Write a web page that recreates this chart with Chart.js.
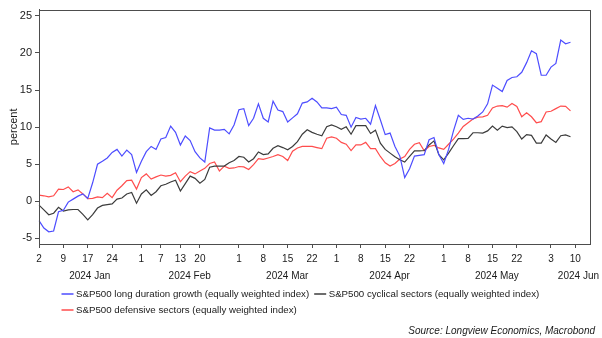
<!DOCTYPE html>
<html>
<head>
<meta charset="utf-8">
<script src="https://cdn.jsdelivr.net/npm/chart.js@4.4.1/dist/chart.umd.min.js"></script>
<style>
  html, body { margin: 0; padding: 0; background: #fff; }
  canvas { display: block; }
</style>
</head>
<body>
<canvas id="chart" width="602" height="338"></canvas>
<script>
// trading days, 2024
const janDays = [2,3,4,5,8,9,10,11,12,16,17,18,19,22,23,24,25,26,29,30,31];
const febDays = [1,2,5,6,7,8,9,12,13,14,15,16,20,21,22,23,26,27,28,29];
const marDays = [1,4,5,6,7,8,11,12,13,14,15,18,19,20,21,22,25,26,27,28];
const aprDays = [1,2,3,4,5,8,9,10,11,12,15,16,17,18,19,22,23,24,25,26,29,30];
const mayDays = [1,2,3,6,7,8,9,10,13,14,15,16,17,20,21,22,23,24,28,29,30,31];
const junDays = [3,4,5,6,7,10,11,12,13];
const monthNames = ["Jan", "Feb", "Mar", "Apr", "May", "Jun"];

const xTickLabels = ["01-02","01-09","01-17","01-24","02-01","02-07","02-13","02-20",
  "03-01","03-08","03-15","03-22","04-01","04-08","04-15","04-22",
  "05-01","05-08","05-15","05-22","06-03","06-10"];
const yTicks = [-5, 0, 5, 10, 15, 20, 25];

const seriesNames = [
  "S&P500 long duration growth (equally weighted index)",
  "S&P500 cyclical sectors (equally weighted index)",
  "S&P500 defensive sectors (equally weighted index)"
];

const growth = [-2.6,-3.6,-4.1,-4.0,-1.4,-1.2,-0.1,0.3,0.7,1.0,
  0.4,2.5,5.0,5.4,5.85,6.6,7.0,6.1,6.9,6.3,
  3.9,5.4,6.7,7.4,7.0,8.4,8.6,10.15,9.3,7.6,
  8.8,8.2,6.7,5.85,5.3,9.9,9.6,9.6,9.7,9.1,
  10.3,12.35,12.5,10.2,11.2,13.15,11.2,10.7,13.5,12.3,
  12.1,10.7,11.25,11.8,13.25,13.4,13.9,13.4,12.6,12.6,
  12.5,12.7,11.7,11.6,10.0,11.3,11.1,11.2,10.4,12.9,
  11.0,9.0,9.2,7.4,6.1,3.2,4.4,6.1,6.2,6.3,
  8.3,8.6,6.3,5.1,7.0,9.5,11.6,11.05,11.2,11.1,
  11.5,12.05,13.15,15.67,15.25,14.8,16.3,16.7,16.8,17.4,
  18.7,20.3,19.9,17.0,17.0,18.1,18.6,21.75,21.25,21.45];

const cyclical = [-0.5,-1.15,-1.8,-1.6,-0.8,-1.3,-1.15,-1.1,-1.1,-1.75,
  -2.5,-1.8,-0.9,-0.55,-0.45,-0.35,0.3,0.45,1.0,1.2,
  -0.25,1.0,1.55,0.8,1.3,2.1,2.3,2.6,2.85,1.4,
  2.4,3.4,3.1,2.45,2.95,4.6,4.75,4.75,4.75,5.2,
  5.5,6.05,5.95,5.3,5.75,6.65,6.3,6.4,7.15,7.5,
  7.25,6.95,7.4,8.05,9.05,9.65,9.3,9.05,8.85,10.05,
  10.3,10.05,9.7,10.05,9.05,10.2,10.2,10.2,9.15,9.6,
  7.85,7.0,6.5,6.0,5.6,5.3,6.05,6.8,6.8,6.85,
  7.6,8.15,6.3,5.6,6.5,7.5,8.45,8.45,8.5,9.25,
  9.25,9.2,9.5,10.15,9.6,10.15,9.95,10.05,9.4,8.4,
  9.0,8.9,7.85,7.85,8.95,8.4,7.95,8.85,8.95,8.7];

const defensive = [0.85,0.75,0.6,0.75,1.65,1.6,1.95,1.3,1.55,1.0,
  0.35,0.4,0.6,0.5,1.1,0.5,1.5,2.1,2.8,2.85,
  1.65,3.2,3.7,3.0,3.3,3.55,3.4,3.5,3.85,2.65,
  3.4,4.0,3.7,4.1,4.45,5.1,5.3,4.1,4.75,4.45,
  4.5,4.7,4.65,4.3,4.95,5.75,5.65,5.85,6.05,6.3,
  6.05,5.5,6.75,7.2,7.4,7.4,7.4,7.25,7.1,8.5,
  8.7,8.5,7.95,7.7,6.85,7.6,7.6,7.95,7.1,7.1,
  6.05,5.2,4.75,5.1,5.7,6.05,7.0,7.7,7.9,6.8,
  7.4,7.55,7.2,7.0,7.7,8.4,9.2,10.1,10.6,11.1,
  11.35,11.4,11.6,12.6,12.85,12.9,12.7,13.2,12.8,11.4,
  11.95,11.4,10.6,10.75,12.05,12.15,12.5,12.85,12.8,12.2];

const pad = (n) => String(n).padStart(2, "0");
const labels = [janDays, febDays, marDays, aprDays, mayDays, junDays]
  .flatMap((days, m) => days.map(d => pad(m + 1) + "-" + pad(d)));

const FONT = "'Liberation Sans', Arial, sans-serif";
const TEXT = "#1a1a1a";
const FRAME = "#4d4d4d";

const extras = {
  id: "extras",
  afterDraw(chart) {
    const { ctx, chartArea: a, scales } = chart;
    ctx.save();
    // frame
    ctx.strokeStyle = FRAME;
    ctx.lineWidth = 1;
    ctx.strokeRect(Math.round(a.left) + 0.5, Math.round(a.top) + 0.5,
      Math.round(a.right - a.left), Math.round(a.bottom - a.top));

    // month labels
    ctx.fillStyle = TEXT;
    ctx.font = "10px " + FONT;
    ctx.textBaseline = "middle";
    monthNames.forEach((name, m) => {
      const idx = labels.map((l, i) => l.startsWith(pad(m + 1)) ? i : -1).filter(i => i >= 0);
      const x0 = scales.x.getPixelForValue(idx[0]);
      const x1 = scales.x.getPixelForValue(idx[idx.length - 1]);
      const txt = "2024 " + name;
      if (m === monthNames.length - 1) {
        ctx.textAlign = "right";
        ctx.fillText(txt, 599, 276);
      } else {
        ctx.textAlign = "center";
        ctx.fillText(txt, (x0 + x1) / 2 + 2, 276);
      }
    });

    // legend
    ctx.textAlign = "left";
    ctx.font = "9.7px " + FONT;
    let x = 61.5, y = 294;
    chart.data.datasets.forEach((ds, i) => {
      if (i === 2) { x = 61.5; y = 310; }
      ctx.strokeStyle = ds.borderColor;
      ctx.lineWidth = 1.5;
      ctx.beginPath();
      ctx.moveTo(x, y);
      ctx.lineTo(x + 12, y);
      ctx.stroke();
      ctx.fillStyle = TEXT;
      ctx.fillText(ds.label, x + 14.5, y);
      x += 14.5 + ctx.measureText(ds.label).width + 5;
    });

    // source
    ctx.font = "italic 10px " + FONT;
    ctx.textAlign = "right";
    ctx.fillText("Source: Longview Economics, Macrobond", 595, 331);
    ctx.restore();
  }
};

const ds = (label, data, color) => ({
  label, data,
  borderColor: color,
  borderWidth: 1.2,
  pointRadius: 0,
  tension: 0,
  fill: false
});

new Chart(document.getElementById("chart"), {
  type: "line",
  data: {
    labels: labels,
    datasets: [
      ds(seriesNames[0], growth, "#4d4dff"),
      ds(seriesNames[1], cyclical, "#3c3c3c"),
      ds(seriesNames[2], defensive, "#ff4d4d")
    ]
  },
  options: {
    responsive: false,
    animation: false,
    layout: { padding: { top: 6, right: 12, bottom: 54, left: 0 } },
    plugins: { legend: { display: false }, tooltip: { enabled: false } },
    scales: {
      x: {
        type: "category",
        offset: false,
        afterBuildTicks: (scale) => {
          scale.ticks = scale.ticks.filter(t => xTickLabels.includes(labels[t.value]));
        },
        afterFit: (scale) => { scale.height = 40; },
        ticks: {
          autoSkip: false,
          maxRotation: 0,
          padding: 5,
          color: TEXT,
          font: { size: 10, family: FONT },
          callback: (v) => String(parseInt(labels[v].slice(3), 10))
        },
        grid: { drawOnChartArea: false, drawTicks: true, tickLength: 4, tickColor: FRAME },
        border: { color: FRAME }
      },
      y: {
        min: -5.75,
        max: 25.85,
        afterBuildTicks: (scale) => { scale.ticks = yTicks.map(v => ({ value: v })); },
        afterFit: (scale) => { scale.width = 39; },
        ticks: {
          padding: 3,
          color: TEXT,
          font: { size: 11, family: FONT },
          callback: (v) => String(v)
        },
        grid: { drawOnChartArea: false, drawTicks: true, tickLength: 4, tickColor: FRAME },
        border: { color: FRAME },
        title: {
          display: true,
          text: "percent",
          color: TEXT,
          font: { size: 11, family: FONT },
          padding: { top: 7, bottom: 0 }
        }
      }
    }
  },
  plugins: [extras]
});
</script>
</body>
</html>
